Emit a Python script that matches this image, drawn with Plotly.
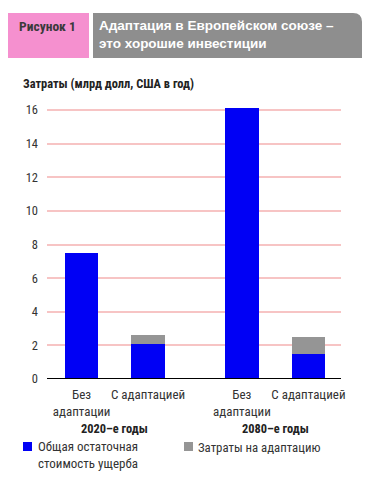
import plotly.graph_objects as go

# Data
categories = ["Без<br>адаптации", "С адаптацией", "Без<br>адаптации", "С адаптацией"]
positions = [0, 1, 2.41, 3.41]
residual_damage = [7.5, 2.1, 16.1, 1.5]
adaptation_cost = [0, 0.5, 0, 1.0]
groups = ["2020–е годы", "2080–е годы"]
yticks = [0, 2, 4, 6, 8, 10, 12, 14, 16]

NARROW = "Liberation Sans Narrow, Roboto Condensed, Arial Narrow, Liberation Sans, sans-serif"
WIDE = "Liberation Sans, Arial, Helvetica, sans-serif"
BLUE = "#0000f5"
GREY = "#959595"

OFF = 8  # page body margin
W, H = 373 - OFF, 495 - OFF
PL, PR, PT, PB = 47, 341, 105, 379  # plot area in page pixels
L, T = PL - OFF, PT - OFF
R, B = W - (PR - OFF), H - (PB - OFF)


def px(x):
    return (x - PL) / (PR - PL)


def py(y):
    return (PB - y) / (PB - PT)


fig = go.Figure()
fig.add_bar(x=positions, y=residual_damage, marker_color=BLUE, width=0.5,
            marker_line_width=0, name="Общая остаточная стоимость ущерба")
fig.add_bar(x=positions, y=adaptation_cost, marker_color=GREY, width=0.5,
            marker_line_width=0, name="Затраты на адаптацию")

shapes = []
# header boxes
shapes.append(dict(type="rect", xref="paper", yref="paper",
                   x0=px(7), x1=px(89), y0=py(58), y1=py(13),
                   fillcolor="#f590cf", line_width=0, layer="above"))
r = 9
path = (f"M {px(93)},{py(58)} L {px(93)},{py(13)} L {px(362 - r)},{py(13)} "
        f"Q {px(362)},{py(13)} {px(362)},{py(13 + r)} L {px(362)},{py(58)} Z")
shapes.append(dict(type="path", xref="paper", yref="paper", path=path,
                   fillcolor="#8e8e8e", line_width=0, layer="above"))
# legend squares
shapes.append(dict(type="rect", xref="paper", yref="paper",
                   x0=px(23), x1=px(32), y0=py(451), y1=py(442),
                   fillcolor=BLUE, line_width=0))
shapes.append(dict(type="rect", xref="paper", yref="paper",
                   x0=px(184), x1=px(193), y0=py(451), y1=py(442),
                   fillcolor=GREY, line_width=0))
# baseline
shapes.append(dict(type="line", xref="paper", yref="y", x0=0, x1=1, y0=0, y1=0,
                   line=dict(color="black", width=2), layer="above"))

annotations = [
    dict(text="<b>Рисунок 1</b>", x=px(17), y=py(26), xref="paper", yref="paper",
         xanchor="left", yanchor="middle", showarrow=False,
         font=dict(family=NARROW, size=13.5, color="#3a3a3a")),
    dict(text="<b>Адаптация в Европейском союзе –<br>это хорошие инвестиции</b>",
         x=px(97), y=py(34), xref="paper", yref="paper", xanchor="left",
         yanchor="middle", align="left", showarrow=False,
         font=dict(family=WIDE, size=13.5, color="white")),
    dict(text="<b>Затраты (млрд долл, США в год)</b>", x=px(21), y=py(84),
         xref="paper", yref="paper", xanchor="left", yanchor="middle",
         showarrow=False, font=dict(family=NARROW, size=12.4, color="#222")),
    dict(text=f"<b>{groups[0]}</b>", x=(positions[0] + positions[1]) / 2, y=py(428),
         xref="x", yref="paper", xanchor="center", yanchor="middle",
         showarrow=False, font=dict(family=NARROW, size=12.4, color="#222")),
    dict(text=f"<b>{groups[1]}</b>", x=(positions[2] + positions[3]) / 2, y=py(428),
         xref="x", yref="paper", xanchor="center", yanchor="middle",
         showarrow=False, font=dict(family=NARROW, size=12.4, color="#222")),
    dict(text="Общая остаточная<br>стоимость ущерба", x=px(36), y=py(455),
         xref="paper", yref="paper", xanchor="left", yanchor="middle",
         align="left", showarrow=False, font=dict(family=NARROW, size=13, color="#333")),
    dict(text="Затраты на адаптацию", x=px(196), y=py(447),
         xref="paper", yref="paper", xanchor="left", yanchor="middle",
         align="left", showarrow=False, font=dict(family=NARROW, size=12.8, color="#333")),
]

fig.update_layout(
    width=W, height=H, autosize=False,
    margin=dict(l=L, r=R, t=T, b=B, pad=0),
    barmode="stack", showlegend=False,
    plot_bgcolor="white", paper_bgcolor="white",
    font=dict(family=NARROW, size=12, color="#333"),
    shapes=shapes, annotations=annotations,
    xaxis=dict(range=[-0.52, 3.9], tickvals=positions, ticktext=categories,
               tickangle=0, showgrid=False, zeroline=False, showline=False,
               ticks="", ticklabelstandoff=6,
               tickfont=dict(family=NARROW, size=13, color="#333"), fixedrange=True),
    yaxis=dict(range=[0, 16.3], tickvals=yticks, showgrid=True,
               gridcolor="#f7c4c4", gridwidth=1.5, zeroline=False, showline=False,
               ticks="", ticklabelstandoff=8,
               tickfont=dict(family=NARROW, size=12.5, color="#333"), fixedrange=True),
)

fig.write_html("out.html")
